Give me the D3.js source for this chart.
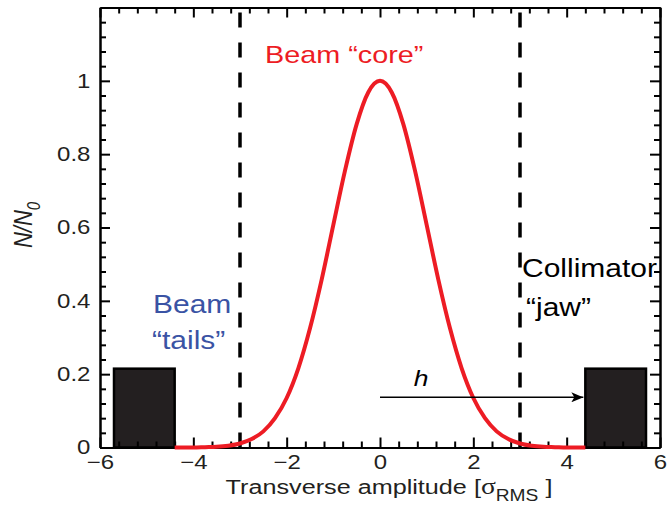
<!DOCTYPE html>
<html>
<head>
<meta charset="utf-8">
<script src="https://cdn.jsdelivr.net/npm/d3@7"></script>
<style>
  body { margin: 0; background: #fff; }
  svg { font-family: "Liberation Sans", Arial, Helvetica, sans-serif; }
  .axis path, .axis line { stroke: #000; stroke-width: 2; }
  .axis text { font-size: 20px; fill: #231f20; }
</style>
</head>
<body>
<svg id="chart" width="667" height="514"></svg>
<script>
// ---- data ----
var xTicks = [-6, -4, -2, 0, 2, 4, 6];
var yTicks = [0, 0.2, 0.4, 0.6, 0.8, 1];
var xMinor = [-5.6, -5.2, -4.8, -4.4, -3.6, -3.2, -2.8, -2.4, -1.6, -1.2, -0.8, -0.4,
              0.4, 0.8, 1.2, 1.6, 2.4, 2.8, 3.2, 3.6, 4.4, 4.8, 5.2, 5.6];
var yMinor = [0.04, 0.08, 0.12, 0.16, 0.24, 0.28, 0.32, 0.36, 0.44, 0.48, 0.52, 0.56,
              0.64, 0.68, 0.72, 0.76, 0.84, 0.88, 0.92, 0.96, 1.04, 1.08, 1.12, 1.16];

// beam core profile
var coreX = [-4.4, -4, -3.75, -3.5, -3.25, -3, -2.75, -2.5, -2.25, -2, -1.75, -1.5, -1.25, -1,
             -0.75, -0.5, -0.25, 0, 0.25, 0.5, 0.75, 1, 1.25, 1.5, 1.75, 2, 2.25, 2.5,
             2.75, 3, 3.25, 3.5, 3.75, 4, 4.4];
var coreY = [0, 0, 0.001, 0.002, 0.005, 0.011, 0.023, 0.044, 0.080, 0.135, 0.216, 0.325, 0.458, 0.607,
             0.755, 0.882, 0.969, 1, 0.969, 0.882, 0.755, 0.607, 0.458, 0.325, 0.216, 0.135, 0.080, 0.044,
             0.023, 0.011, 0.005, 0.002, 0.001, 0, 0];

var cuts = [-3, 3];                 // dashed lines
var jawLeft = [-5.7, -4.4];
var jawRight = [4.4, 5.7];
var jawHeight = 0.215;
var arrowFrom = [0, 0.137];
var arrowTo = [4.4, 0.137];

var SX = 1.2; // the picture is stretched horizontally

var svg = d3.select("#chart");
var x = d3.scaleLinear().domain([-6, 6]).range([100, 660]);
var y = d3.scaleLinear().domain([0, 1.2]).range([447.5, 7.5]);

// jaws
svg.selectAll("rect.jaw")
    .data([jawLeft, jawRight])
    .enter().append("rect")
    .attr("class", "jaw")
    .attr("x", function(d) { return x(d[0]); })
    .attr("y", y(jawHeight))
    .attr("width", function(d) { return x(d[1]) - x(d[0]); })
    .attr("height", y(0) - y(jawHeight))
    .attr("fill", "#231f20")
    .attr("stroke", "#000")
    .attr("stroke-width", 2.5);

// dashed cut lines
svg.selectAll("line.cut")
    .data(cuts)
    .enter().append("line")
    .attr("class", "cut")
    .attr("x1", function(d) { return x(d); })
    .attr("x2", function(d) { return x(d); })
    .attr("y1", y(0))
    .attr("y2", y(1.2))
    .attr("stroke", "#000")
    .attr("stroke-width", 3.5)
    .attr("stroke-dasharray", "15,15");

// axes, ticks pointing inward
function axis(gen, tr, vals, size, labels) {
    var g = svg.append("g").attr("class", "axis").attr("transform", tr);
    gen.tickValues(vals).tickSize(-size).tickSizeOuter(0).tickPadding(9);
    if (!labels) gen.tickFormat("");
    g.call(gen);
    return g;
}
var fmt = function(d) { return d3.format("")(d).replace("-", "\u2212"); };

axis(d3.axisBottom(x), "translate(0," + y(0) + ")", xMinor, 6, false);
axis(d3.axisTop(x), "translate(0," + y(1.2) + ")", xMinor, 6, false);
axis(d3.axisLeft(y), "translate(" + x(-6) + ",0)", yMinor, 6, false);
axis(d3.axisRight(y), "translate(" + x(6) + ",0)", yMinor, 6, false);

var xb = axis(d3.axisBottom(x).tickFormat(fmt), "translate(0," + y(0) + ")", xTicks, 10, true);
xb.selectAll("text").attr("dy", null).attr("y", 22).attr("transform", "scale(" + SX + ",1)");
axis(d3.axisTop(x), "translate(0," + y(1.2) + ")", xTicks, 10, false);
var yl = axis(d3.axisLeft(y).tickFormat(fmt), "translate(" + x(-6) + ",0)", yTicks, 10, true);
yl.selectAll("text").attr("x", -8).attr("transform", "scale(" + SX + ",1)");
axis(d3.axisRight(y), "translate(" + x(6) + ",0)", yTicks, 10, false);

// beam core curve
var line = d3.line()
    .x(function(d) { return x(d[0]); })
    .y(function(d) { return y(d[1]); })
    .curve(d3.curveMonotoneX);
svg.append("path")
    .datum(d3.zip(coreX, coreY))
    .attr("d", line)
    .attr("fill", "none")
    .attr("stroke", "#ed1c24")
    .attr("stroke-width", 4);

// arrow h
svg.append("defs").append("marker")
    .attr("id", "head")
    .attr("viewBox", "0 0 12 10")
    .attr("refX", 12).attr("refY", 5)
    .attr("markerWidth", 12).attr("markerHeight", 10)
    .attr("markerUnits", "userSpaceOnUse")
    .attr("orient", "auto")
    .append("path")
    .attr("d", "M0,0 L12,5 L0,10 L3,5 Z")
    .attr("fill", "#000");
svg.append("line")
    .attr("x1", x(arrowFrom[0])).attr("y1", y(arrowFrom[1]))
    .attr("x2", x(arrowTo[0]) - 2).attr("y2", y(arrowTo[1]))
    .attr("stroke", "#000").attr("stroke-width", 1.3)
    .attr("marker-end", "url(#head)");

// text helper, stretched like the picture
function label(px, py, str, size, color, anchor, extra) {
    var t = svg.append("text")
        .attr("transform", "translate(" + px + "," + py + ") scale(" + SX + ",1)" + (extra || ""))
        .attr("font-size", size)
        .attr("fill", color)
        .attr("text-anchor", anchor || "start")
        .text(str);
    return t;
}

label(265, 63, "Beam \u201ccore\u201d", 24, "#ed1c24");
label(153, 313, "Beam", 25, "#3a53a4");
label(152, 349, "\u201ctails\u201d", 25, "#3a53a4");
label(522, 277, "Collimator", 25, "#000");
label(526, 316, "\u201cjaw\u201d", 25, "#000");
label(421, 386, "h", 22, "#000", "middle").attr("font-style", "italic");

// x axis title
var xt = label(389, 494, "Transverse amplitude [", 21, "#231f20", "middle");
xt.append("tspan").attr("font-family", "'Liberation Serif', 'DejaVu Serif', serif").attr("font-size", 23).text("\u03c3");
xt.append("tspan").attr("font-size", 16).attr("dy", 7).text("RMS");
xt.append("tspan").attr("dy", -7).text(" ]");

// y axis title
var yt = label(32, 225, "N/N", 22, "#231f20", "middle", " rotate(-90)").attr("font-style", "italic");
yt.append("tspan").attr("font-size", 15).attr("dy", 7).text("0");
</script>
</body>
</html>
